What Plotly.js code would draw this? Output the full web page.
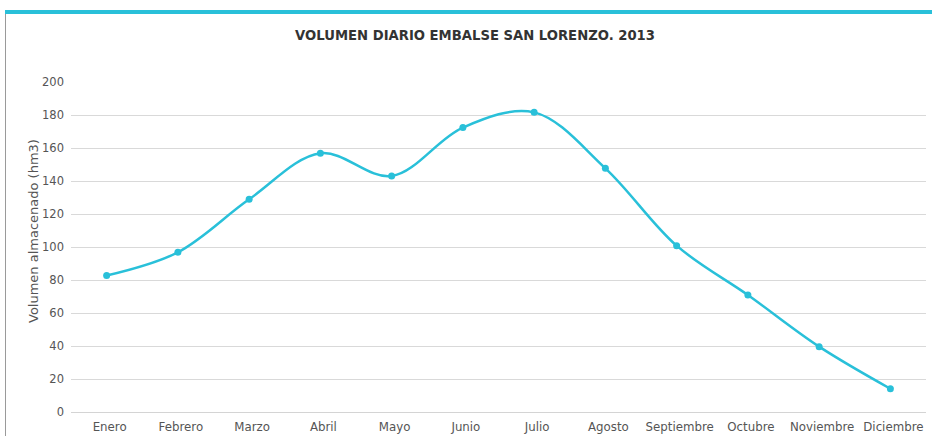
<!DOCTYPE html>
<html>
<head>
<meta charset="utf-8">
<script src="https://cdn.plot.ly/plotly-3.0.1.min.js"></script>
<style>
html,body{margin:0;padding:0;background:#fff;}
#wrap{position:relative;width:932px;height:436px;overflow:hidden;}
#chart{position:absolute;left:0;top:0;width:932px;height:436px;}
#topbar{position:absolute;left:5px;top:10px;width:927px;height:4px;background:#29c0d9;z-index:5;}
#leftbar{position:absolute;left:5px;top:10px;width:1px;height:426px;background:#9a9a9a;z-index:5;}
</style>
</head>
<body>
<div id="wrap">
<div id="chart"></div>
<div id="leftbar"></div>
<div id="topbar"></div>
</div>
<script>
const months = ["Enero","Febrero","Marzo","Abril","Mayo","Junio","Julio","Agosto","Septiembre","Octubre","Noviembre","Diciembre"];
const volume = [82.7, 96.8, 128.9, 156.8, 143.0, 172.4, 181.6, 147.7, 100.8, 70.9, 39.6, 14.1];
const yTicks = [0, 20, 40, 60, 80, 100, 120, 140, 160, 180, 200];
const yTitle = "Volumen almacenado (hm3)";

const trace = {
  x: months,
  y: volume,
  type: "scatter",
  mode: "lines+markers",
  line: {color: "#29c0d9", width: 2.5, shape: "spline", smoothing: 1},
  marker: {color: "#29c0d9", size: 7},
  hoverinfo: "x+y"
};

const layout = {
  width: 932,
  height: 436,
  margin: {l: 71, r: 6, t: 82, b: 24},
  paper_bgcolor: "#ffffff",
  plot_bgcolor: "#ffffff",
  showlegend: false,
  font: {family: "DejaVu Sans, sans-serif", color: "#555555", size: 11},
  title: {
    text: "<b>VOLUMEN DIARIO EMBALSE SAN LORENZO. 2013</b>",
    font: {family: "DejaVu Sans, sans-serif", size: 13.2, color: "#333333"},
    x: 0.5097, xanchor: "center",
    y: 1 - 35/436, yanchor: "middle"
  },
  xaxis: {
    type: "category",
    range: [-0.5, 11.5],
    showgrid: false,
    zeroline: false,
    showline: false,
    ticks: "",
    ticklabelstandoff: 6,
    ticklabelshift: 3,
    tickfont: {size: 11.8, color: "#555555"},
    fixedrange: true
  },
  yaxis: {
    range: [0, 200],
    tickvals: yTicks,
    showgrid: true,
    gridcolor: "#d9d9d9",
    gridwidth: 1,
    zeroline: true,
    zerolinecolor: "#d4d4d4",
    zerolinewidth: 1,
    showline: false,
    ticks: "",
    ticklabelstandoff: 6,
    tickfont: {size: 11.5, color: "#555555"},
    automargin: false,
    fixedrange: true
  },
  annotations: [{
    text: yTitle,
    textangle: -90,
    xref: "paper", yref: "paper",
    x: (33 - 71) / 855, y: (412 - 231) / 330,
    xanchor: "center", yanchor: "middle",
    showarrow: false,
    font: {family: "DejaVu Sans, sans-serif", size: 13, color: "#555555"}
  }]
};

Plotly.newPlot("chart", [trace], layout, {displayModeBar: false, staticPlot: true});
</script>
</body>
</html>
